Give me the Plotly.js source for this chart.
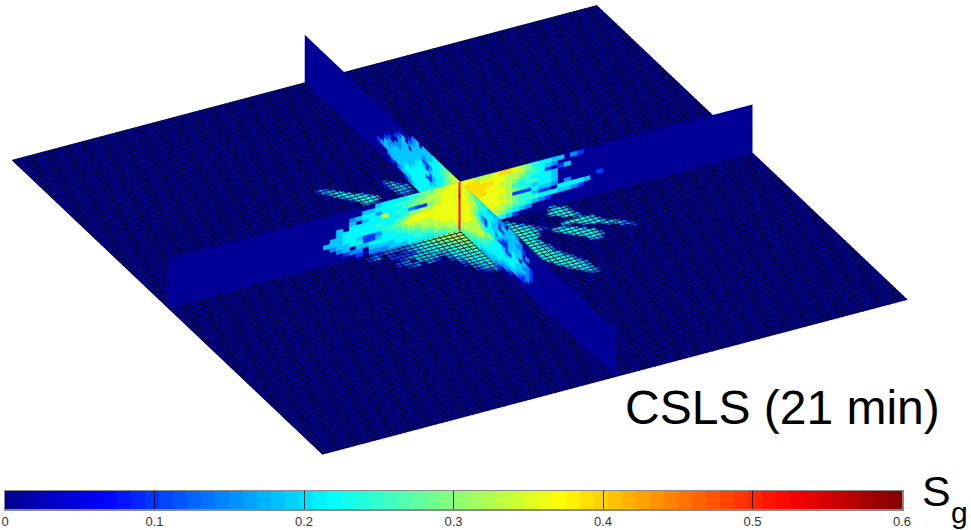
<!DOCTYPE html>
<html>
<head>
<meta charset="utf-8">
<script src="https://cdn.plot.ly/plotly-3.0.1.min.js"></script>
<style>html,body{margin:0;padding:0;background:#fff}#c{width:971px;height:530px}</style>
</head>
<body>
<div id="c"></div>
<script>
// Saturation classes used by the digit grids below (index = digit)
const sgLevels = [0, 0.1, 0.15, 0.185, 0.215, 0.245, 0.285, 0.325, 0.36, 0.39];
const tickValues = [0, 0.1, 0.2, 0.3, 0.4, 0.5, 0.6];
const tickLabels = ["0", "0.1", "0.2", "0.3", "0.4", "0.5", "0.6"];
const legendBins = 64;
// Well column, top cell to bottom cell
const wellSg = [0.51,0.52,0.53,0.58,0.53,0.52,0.52,0.52,0.52,0.52,0.52,0.52];

// Vertical section, near left half: rows top to bottom, columns from the well outwards
const wallFrontLeft = [
"8877665544443",
"888776655544433",
"88877766544424432",
"888761124547443 3",
"88887766544444444 3",
"8888888765445444443",
"88888888765544444433",
"888877776554211344333",
"88877766554431144332",
"8777665544444433 32",
"77665554443333 221",
"66554444333222 1"];
// Vertical section, far left half
const wallBackLeft = [
"87765544333 32",
"877665443333321",
"876655444323332 31",
"87665444211333 3321",
"776654443134333332",
"7766544314444333322 1",
"7776544311444333333221",
"8776544434444433333323",
"887665544444444433333321",
"887766555444444433332",
"888776655544443332 1",
"8887766655544321"];
// Vertical section, far right half
const wallBackRight = [
"8877789987654433 21",
"899888877765432",
"89999887765541 13",
"999988776554443",
"899988875455443",
"889888876543443",
"888888771114332 2....1",
"88888887655311 44443",
"7888887765554443321",
"77888776554321",
"77787765432",
"677765431"];
// Vertical section, near right half
const wallFrontRight = [
"8876554433322 332",
"887765544431333332",
"8877754443311333221",
"888764214334323333 2",
"8887653144231133331",
"88877654443111343 321",
"888877657544311443221",
"888777865444434433321",
"88777765544444443212",
"7777665544443333211",
"776655444333221",
"655544333321"];
// Horizontal layer, front sector (between the two near sections)
const planeFront = [
"77766543222211",
"7766554321 1 21",
"766554431111",
"66554433321",
"655432333 21",
"55442.12 21",
"54431",
"4442",
"4431",
"432",
"331",
"21"];
// Horizontal layer, right sector, half-cell rows: [start column, digits] spans
const planeRight = [
[[27,"22"]],
[[26,"2332"]],
[[12,"22"],[26,"234432"]],
[[12,"332"],[25,"3444432"]],
[[12,"3431"],[25,"3454442"]],
[[12,"34432"],[27,"34443"]],
[[12,"444432"],[28,"44432"]],
[[12,"4544432"],[30,"332"]],
[[12,"45544321"],[32,"2"]],
[[12,"4555443211"],[26,"2344444322"]],
[[12,"45544321"],[26,"3444555433"]],
[[12,"4544431"],[22,"2332"],[30,"3444432"]],
[[12,"454443"],[22,"334432"],[31,"344443"]],
[[12,"45443"],[23,"344443"],[33,"34432"]],
[[12,"4544"],[24,"3444432"],[36,"3332"]],
[[12,"45443"],[25,"344443"],[37,"3332"]],
[[12,"44543"],[26,"3444443"],[39,"2321"]],
[[12,"45432"],[27,"344443"],[40,"221"]],
[[12,"444432"],[28,"344432"],[42,"21"]],
[[12,"454432"],[29,"34432"],[43,"1"]],
[[12,"454442"],[29,"3342"]],
[[12,"445431"],[30,"121"]],
[[12,"4454432"]],
[[12,"3445443"]],
[[12,"34454431"]],
[[13,"3445432"]],
[[13,"34454432"]],
[[14,"3445442"]],
[[14,"24454431"]],
[[15,"3445432"]],
[[16,"3444432"]],
[[16,"2344431"]],
[[17,"344432"]],
[[18,"23432"]],
[[19,"3432"]],
[[20,"2321"]],
[[20,"1221"]],
[[22,"1"]]];
// Horizontal layer, left sector, half-cell rows starting 24 half cells behind the well
const planeLeft = [
[[1,"12221"],[12,"23443"]],
[[1,"12221"],[11,"234432"]],
[[1,"22332"],[11,"3444431"]],
[[1,"23321"],[12,"3444431"]],
[[1,"223321"],[13,"344432"]],
[[2,"12321"],[14,"344432"]],
[[3,"2321"],[16,"34432"]],
[[4,"221"],[17,"34432"]],
[[5,"21"],[18,"34321"]],
[[19,"3332"]],
[[20,"2322"]],
[[21,"2221"]],
[[22,"121"]]];

const planeHalfCells = 45;
const wallCells = 12;
const planeLeftOffset = 24;
const meshStep = 0.8;

// Jet colour map, as in the colour bar
const jetStops = [[0,[0,0,143]],[0.111,[0,0,255]],[0.365,[0,255,255]],[0.619,[255,255,0]],[0.873,[255,0,0]],[1,[128,0,0]]];
const sgMax = 0.6;
function jet(sg){
  const t = Math.min(1, Math.max(0, sg/sgMax));
  for(let n=1;n<jetStops.length;n++){
    if(t<=jetStops[n][0]){
      const a=jetStops[n-1], b=jetStops[n], f=(t-a[0])/(b[0]-a[0]);
      const c=a[1].map((v,m)=>Math.round(v+(b[1][m]-v)*f));
      return `rgb(${c[0]},${c[1]},${c[2]})`;
    }
  }
  return 'rgb(128,0,0)';
}

// Orthographic view of the model (cells) onto the page axes
const view = {ox:460, oy:230, ix:[6.5,-1.72], jx:[3.45,3.27], kx:[0,-4]};
function proj(i,j,k){
  return [view.ox+i*view.ix[0]+j*view.jx[0]+k*view.kx[0],
          view.oy+i*view.ix[1]+j*view.jx[1]+k*view.kx[1]];
}
const traces=[];
function polyTrace(quads,color,lw){
  const x=[],y=[];
  quads.forEach(q=>{q.forEach(p=>{const s=proj(p[0],p[1],p[2]);x.push(s[0]);y.push(s[1]);});
    const s=proj(q[0][0],q[0][1],q[0][2]);x.push(s[0],null);y.push(s[1],null);});
  traces.push({type:'scatter',mode:'lines',x,y,fill:'toself',fillcolor:color,
    line:{color,width:lw===undefined?0.6:lw},hoverinfo:'skip',showlegend:false,xaxis:'x',yaxis:'y'});
}
function gridCells(rows,corner){
  const byLevel={};
  rows.forEach((row,r)=>{[...row].forEach((ch,c)=>{
    if(ch<'1'||ch>'9')return;
    (byLevel[ch]=byLevel[ch]||[]).push(corner(r,c));
  });});
  Object.keys(byLevel).forEach(l=>polyTrace(byLevel[l],jet(sgLevels[+l])));
}
function spanCells(rows,corner){
  const byLevel={};
  rows.forEach((spans,r)=>spans.forEach(sp=>{[...sp[1]].forEach((ch,n)=>{
    if(ch<'1'||ch>'9')return;
    (byLevel[ch]=byLevel[ch]||[]).push(corner(r,sp[0]+n));
  });}));
  Object.keys(byLevel).forEach(l=>polyTrace(byLevel[l],jet(sgLevels[+l])));
}
const N=planeHalfCells, H=wallCells;
// base layer
polyTrace([[[-N,-N,0],[N,-N,0],[N,N,0],[-N,N,0]]],jet(0.01),0);
gridCells(planeFront,(r,c)=>[[-c,r,0],[-c-1,r,0],[-c-1,r+1,0],[-c,r+1,0]]);
spanCells(planeRight,(r,c)=>[[c/2,r/2,0],[c/2+.5,r/2,0],[c/2+.5,r/2+.5,0],[c/2,r/2+.5,0]]);
spanCells(planeLeft,(r,c)=>{const j=-(r+planeLeftOffset)/2;return [[-c/2,j,0],[-c/2-.5,j,0],[-c/2-.5,j-.5,0],[-c/2,j-.5,0]];});
// mesh of the base layer
(function(){
  const x=[],y=[];
  for(let n=-N;n<=N+1e-6;n+=meshStep){
    let a=proj(n,-N,0),b=proj(n,N,0);x.push(a[0],b[0],null);y.push(a[1],b[1],null);
    a=proj(-N,n,0);b=proj(N,n,0);x.push(a[0],b[0],null);y.push(a[1],b[1],null);
  }
  traces.push({type:'scatter',mode:'lines',x,y,line:{color:'rgba(0,0,15,0.85)',width:1},hoverinfo:'skip',showlegend:false,xaxis:'x',yaxis:'y'});
})();
// far sections
polyTrace([[[0,-N,0],[0,0,0],[0,0,H],[0,-N,H]]],jet(0.005),0);
gridCells(wallBackLeft,(r,c)=>{const t=H-r;return [[0,-c,t],[0,-c-1,t],[0,-c-1,t-1],[0,-c,t-1]];});
polyTrace([[[0,0,0],[N,0,0],[N,0,H],[0,0,H]]],jet(0.005),0);
gridCells(wallBackRight,(r,c)=>{const t=H-r;return [[c,0,t],[c+1,0,t],[c+1,0,t-1],[c,0,t-1]];});
// near sections
polyTrace([[[-N,0,0],[0,0,0],[0,0,H],[-N,0,H]]],jet(0.005),0);
gridCells(wallFrontLeft,(r,c)=>{const t=H-r;return [[-c,0,t],[-c-1,0,t],[-c-1,0,t-1],[-c,0,t-1]];});
polyTrace([[[0,0,0],[0,N,0],[0,N,H],[0,0,H]]],jet(0.005),0);
gridCells(wallFrontRight,(r,c)=>{const t=H-r;return [[0,c,t],[0,c+1,t],[0,c+1,t-1],[0,c,t-1]];});
// well
wellSg.forEach((sg,r)=>{
  const a=proj(0,0,H-r),b=proj(0,0,H-r-1);
  traces.push({type:'scatter',mode:'lines',x:[a[0]-0.5,b[0]-0.5],y:[a[1],b[1]],line:{color:jet(sg),width:2},hoverinfo:'skip',showlegend:false,xaxis:'x',yaxis:'y'});
});
// colour bar
const barX=[],barZ=[];
for(let n=0;n<legendBins;n++){barX.push((n+0.5)*sgMax/legendBins);barZ.push((n+0.5)*sgMax/legendBins);}
traces.push({type:'heatmap',x:barX,y:[0],z:[barZ],zmin:0,zmax:sgMax,showscale:false,hoverinfo:'skip',
  colorscale:jetStops.map(s=>[s[0],`rgb(${s[1].join(',')})`]),xaxis:'x2',yaxis:'y2'});

const layout={
  width:971,height:530,margin:{l:0,r:0,t:0,b:0},paper_bgcolor:'#fff',plot_bgcolor:'rgba(0,0,0,0)',showlegend:false,
  xaxis:{domain:[0,1],range:[0,971],visible:false,fixedrange:true},
  yaxis:{domain:[0,1],range:[530,0],visible:false,fixedrange:true},
  xaxis2:{domain:[5/971,902/971],range:[0,sgMax],anchor:'y2',tickvals:tickValues,ticktext:tickLabels,ticks:'inside',ticklen:18,tickwidth:1,tickcolor:'rgba(0,0,0,0.8)',
    tickfont:{family:'"Liberation Sans Narrow","Liberation Sans",Arial,sans-serif',size:13,color:'#333'},
    showgrid:false,zeroline:false,showline:true,mirror:true,linecolor:'#8a8a8a',linewidth:1.5,fixedrange:true,layer:'above traces'},
  yaxis2:{domain:[21/530,39/530],range:[-0.5,0.5],anchor:'x2',showticklabels:false,ticks:'',showgrid:false,zeroline:false,showline:true,mirror:true,linecolor:'#8a8a8a',linewidth:1.5,fixedrange:true},
  annotations:[
    {xref:'x',yref:'y',x:623,y:407,xanchor:'left',yanchor:'middle',text:'CSLS (21 min)',showarrow:false,
      font:{family:'"Liberation Sans",Arial,sans-serif',size:48,color:'#000'}},
    {xref:'x',yref:'y',x:920,y:491,xanchor:'left',yanchor:'middle',text:'S',showarrow:false,
      font:{family:'"Liberation Sans",Arial,sans-serif',size:43,color:'#000'}},
    {xref:'x',yref:'y',x:949,y:512,xanchor:'left',yanchor:'middle',text:'g',showarrow:false,
      font:{family:'"Liberation Sans",Arial,sans-serif',size:30,color:'#000'}}
  ]
};
Plotly.newPlot('c',traces,layout,{displayModeBar:false,staticPlot:true});
</script>
</body>
</html>
